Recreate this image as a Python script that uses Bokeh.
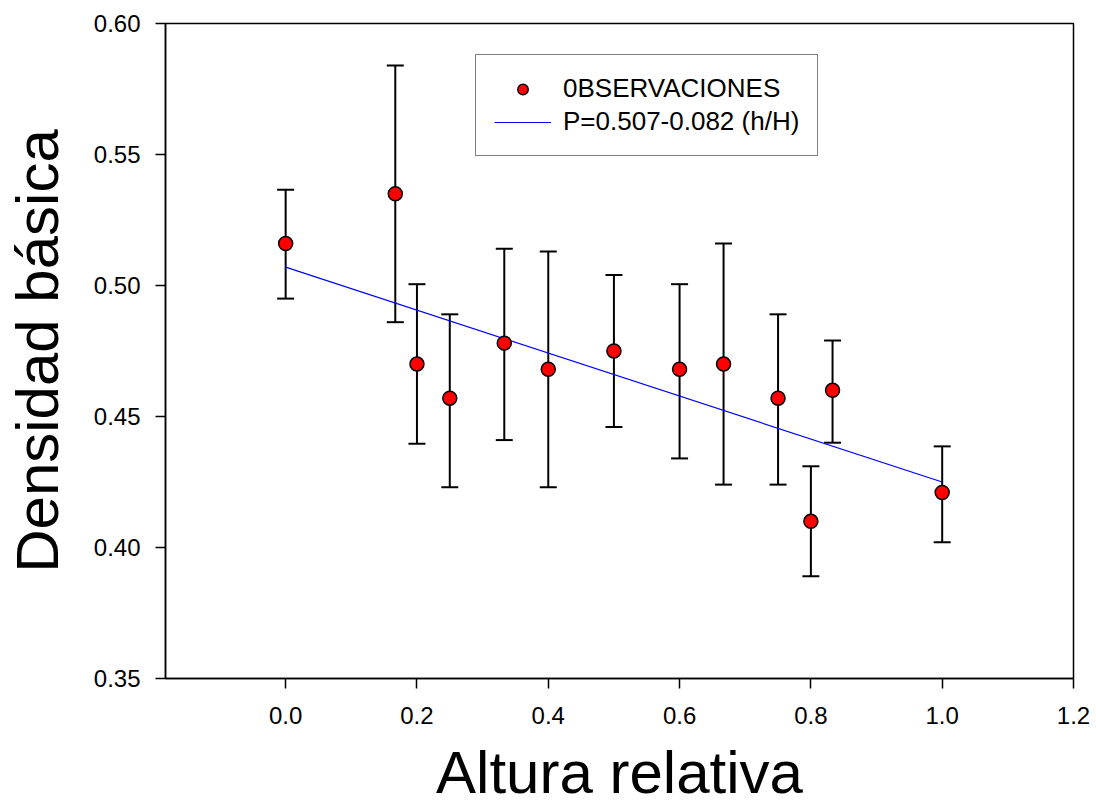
from bokeh.plotting import figure
from bokeh.models import (ColumnDataSource, Whisker, TeeHead, FixedTicker,
                          PrintfTickFormatter, Range1d, Legend, LegendItem)
from bokeh.embed import file_html
from bokeh.resources import INLINE

# ---- data ----
altura = [0.0, 0.167, 0.2, 0.25, 0.333, 0.4, 0.5, 0.6, 0.667, 0.75, 0.8, 0.833, 1.0]
densidad = [0.516, 0.535, 0.470, 0.457, 0.478, 0.468, 0.475, 0.468, 0.470, 0.457, 0.410, 0.460, 0.421]
sup = [0.5365, 0.584, 0.5005, 0.489, 0.514, 0.513, 0.504, 0.5005, 0.516, 0.489, 0.431, 0.479, 0.4386]
inf = [0.495, 0.486, 0.4396, 0.423, 0.441, 0.423, 0.446, 0.434, 0.424, 0.424, 0.389, 0.440, 0.402]

ajuste_x = [0.0, 1.0]
ajuste_y = [0.507, 0.425]   # P = 0.507 - 0.082 (h/H)

x_ticks = [0.0, 0.2, 0.4, 0.6, 0.8, 1.0, 1.2]
y_ticks = [0.35, 0.40, 0.45, 0.50, 0.55, 0.60]

FONT = "Liberation Sans"

src = ColumnDataSource(dict(x=altura, y=densidad, upper=sup, lower=inf))

p = figure(width=1096, height=809, output_backend="svg", toolbar_location=None,
           x_range=Range1d(-0.183, 1.2), y_range=Range1d(0.35, 0.60),
           min_border_left=163, min_border_right=23, min_border_top=23,
           min_border_bottom=131)
p.background_fill_color = "white"
p.border_fill_color = "white"
p.grid.visible = False
p.outline_line_color = "black"
p.outline_line_width = 1.5

w = Whisker(source=src, base="x", upper="upper", lower="lower",
            line_color="black", line_width=2,
            upper_head=TeeHead(size=17, line_color="black", line_width=2),
            lower_head=TeeHead(size=17, line_color="black", line_width=2))
p.add_layout(w)

ln = p.line(ajuste_x, ajuste_y, line_color="#0000ff", line_width=1.2)
sc = p.scatter("x", "y", source=src, size=14, fill_color="#ff0000",
               line_color="black", line_width=1.5)

for ax in (p.xaxis[0], p.yaxis[0]):
    ax.axis_line_color = "black"
    ax.axis_line_width = 1.5
    ax.major_tick_line_color = "black"
    ax.major_tick_line_width = 1.5
    ax.major_tick_out = 10
    ax.major_tick_in = 0
    ax.minor_tick_line_color = None
    ax.major_label_text_font = FONT
    ax.major_label_text_font_size = "24px"
    ax.major_label_text_color = "black"
    ax.axis_label_text_font = FONT
    ax.axis_label_text_font_style = "normal"
    ax.axis_label_text_color = "black"
    ax.axis_label_text_font_size = "60px"

p.xaxis.ticker = FixedTicker(ticks=x_ticks)
p.xaxis.formatter = PrintfTickFormatter(format="%.1f")
p.yaxis.ticker = FixedTicker(ticks=y_ticks)
p.yaxis.formatter = PrintfTickFormatter(format="%.2f")

p.xaxis.major_label_standoff = 18
p.yaxis.major_label_standoff = 15
p.xaxis.axis_label = "Altura relativa"
p.yaxis.axis_label = "Densidad básica"
p.xaxis.axis_label_standoff = 12
p.yaxis.axis_label_standoff = 20

legend = Legend(items=[LegendItem(label="0BSERVACIONES", renderers=[sc]),
                       LegendItem(label="P=0.507-0.082 (h/H)", renderers=[ln])],
                location=(310, 522))
legend.label_text_font = FONT
legend.label_text_font_size = "26px"
legend.label_text_color = "black"
legend.border_line_color = "black"
legend.border_line_width = 1.5
legend.background_fill_color = "white"
legend.background_fill_alpha = 1
legend.glyph_width = 57
legend.glyph_height = 26
legend.label_height = 26
legend.label_standoff = 12
legend.spacing = 2
legend.padding = 18
legend.margin = 0
p.add_layout(legend)

open("out.html", "w").write(file_html(p, INLINE))
